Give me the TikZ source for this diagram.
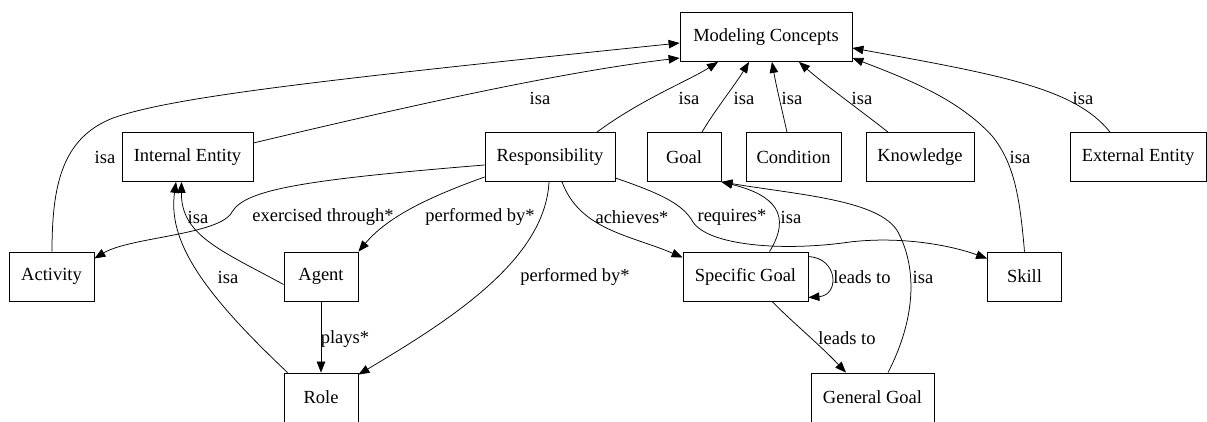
\documentclass[tikz,border=0pt]{standalone}
\usepackage{fontspec}
\setmainfont{Liberation Serif}
\usetikzlibrary{arrows.meta}
\tikzset{
  box/.style={draw, line width=0.8pt, minimum height=49pt, inner sep=0pt, font=\fontsize{18.5}{20}\selectfont},
  lbl/.style={inner sep=0pt, font=\fontsize{18.5}{20}\selectfont},
  arr/.style={draw, line width=0.75pt, -{Triangle[length=11pt,width=8.5pt]}}
}
\begin{document}
\begin{tikzpicture}[x=1pt,y=-1pt]
\useasboundingbox (0,0) rectangle (1207,421);
\clip (0,0) rectangle (1207,421);
\fill[white] (0,0) rectangle (1207,421);
% nodes
\node[box, minimum width=172pt] (mc) at (766,37) {Modeling Concepts};
\node[box, minimum width=131pt] (ie) at (187.5,157) {Internal Entity};
\node[box, minimum width=130pt] (resp) at (550,157) {Responsibility};
\node[box, minimum width=74pt] (goal) at (684,157) {Goal};
\node[box, minimum width=95pt] (cond) at (793.5,157) {Condition};
\node[box, minimum width=108pt] (know) at (920,157) {Knowledge};
\node[box, minimum width=136pt] (ee) at (1138,157) {External Entity};
\node[box, minimum width=85pt] (act) at (51.5,276.5) {Activity};
\node[box, minimum width=74pt] (agent) at (321,276.5) {Agent};
\node[box, minimum width=125pt] (sg) at (745.5,276.5) {Specific Goal};
\node[box, minimum width=74pt] (skill) at (1024.5,276.5) {Skill};
\node[box, minimum width=74pt] (role) at (321,397.5) {Role};
\node[box, minimum width=123pt] (gg) at (872.5,397.5) {General Goal};
% edges to Modeling Concepts
\draw[arr] ([xshift=0.5pt]act.north) .. controls (52,185) and (62,138) .. (113,118)
  .. controls (170,98) and (300,82) .. ([yshift=-6pt]mc.west);
\draw[arr] ([yshift=14pt]ie.east) .. controls (400,108) and (560,72) .. ([yshift=-21pt]mc.west);
\draw[arr] ([xshift=47pt]resp.north) .. controls (640,100) and (690,80) .. ([xshift=-48pt]mc.south);
\draw[arr] ([xshift=18pt]goal.north) .. controls (715,110) and (735,85) .. ([xshift=-17pt]mc.south);
\draw[arr] ([xshift=-6.5pt]cond.north) .. controls (782,110) and (776,85) .. ([xshift=6pt]mc.south);
\draw[arr] ([xshift=-32pt]know.north) .. controls (860,110) and (825,85) .. ([xshift=33pt]mc.south);
\draw[arr] ([xshift=-28pt]ee.north) .. controls (1075,88) and (1000,75) .. ([yshift=-11pt]mc.east);
\draw[arr] (skill.north) .. controls (1020,200) and (1015,165) .. (993,137)
  .. controls (960,100) and (910,80) .. ([yshift=-21pt]mc.east);
% isa to Internal Entity
\draw[arr] ([yshift=-8pt]agent.west) .. controls (220,250) and (181,235) .. ([xshift=-6pt]ie.south);
\draw[arr] ([xshift=4pt]role.north west) .. controls (200,290) and (168,240) .. ([xshift=-11.5pt]ie.south);
% Responsibility edges
\draw[arr] ([yshift=-8pt]resp.west) .. controls (300,180) and (245,190) .. (232,212)
  .. controls (220,235) and (130,237) .. ([yshift=18pt]act.east);
\draw[arr] ([yshift=-20pt]resp.west) .. controls (420,200) and (385,220) .. (agent.north east);
\draw[arr] ([xshift=-1pt]resp.south) .. controls (545,260) and (450,320) .. ([yshift=-2pt]role.north east);
\draw[arr] ([xshift=12pt]resp.south) .. controls (580,230) and (630,235) .. ([yshift=19pt]sg.west);
\draw[arr] ([yshift=-21pt]resp.east) .. controls (665,195) and (683,205) .. (693,222)
  .. controls (708,245) and (780,252) .. (850,242)
  .. controls (900,236) and (950,245) .. ([yshift=18pt]skill.west);
% goal edges
\draw[arr] ([xshift=24pt]sg.north) .. controls (792,215) and (775,195) .. (goal.south east);
\draw[arr] ([xshift=15.5pt]gg.north) .. controls (915,320) and (918,270) .. (898,232)
  .. controls (880,200) and (800,195) .. (goal.south east);
\draw[arr] ([yshift=20pt]sg.east) .. controls (838,258) and (840,295) .. ([yshift=-21pt]sg.east);
\draw[arr] ([xshift=26.5pt]sg.south) .. controls (790,320) and (820,345) .. ([xshift=-26.5pt]gg.north);
\draw[arr] (agent.south) -- (role.north);
% labels
\node[lbl] (l1) at (105,157) {isa};
\node[lbl] (l2) at (540,98) {isa};
\node[lbl] (l3) at (689,98) {isa};
\node[lbl] (l4) at (744,98) {isa};
\node[lbl] (l5) at (792,98) {isa};
\node[lbl] (l6) at (862,98) {isa};
\node[lbl] (l7) at (1083,98) {isa};
\node[lbl] (l8) at (1020,157) {isa};
\node[lbl] (l9) at (198,217) {isa};
\node[lbl] (l10) at (228,277) {isa};
\node[lbl] (l11) at (323,217) {exercised through*};
\node[lbl] (l12) at (480,217) {performed by*};
\node[lbl] (l13) at (575,277) {performed by*};
\node[lbl] (l14) at (632,217) {achieves*};
\node[lbl] (l15) at (732,217) {requires*};
\node[lbl] (l16) at (791,217) {isa};
\node[lbl] (l17) at (862,277) {leads to};
\node[lbl] (l18) at (923,277) {isa};
\node[lbl] (l19) at (847,338) {leads to};
\node[lbl] (l20) at (345,339) {plays*};
\end{tikzpicture}
\end{document}
